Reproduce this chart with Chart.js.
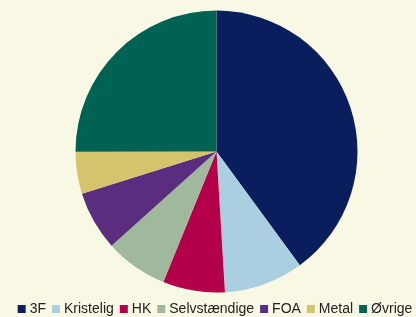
<!DOCTYPE html>
<html>
<head>
<meta charset="utf-8">
<script src="https://cdn.jsdelivr.net/npm/chart.js@4"></script>
<style>
  html, body { margin: 0; padding: 0; background: #f9f8e5; overflow: hidden; }
  /* a bit wider than the window so the pie sits slightly right of centre */
  #wrap { width: 433px; height: 317px; }
</style>
</head>
<body>
<div id="wrap"><canvas id="pie"></canvas></div>
<script>
// Share per group (%), clockwise from 12 o'clock
const labels = ['3F', 'Kristelig', 'HK', 'Selvstændige', 'FOA', 'Metal', 'Øvrige'];
const shares = [39.9, 9.1, 7.1, 7.2, 6.8, 4.8, 25.0];
const colors = ['#0a1e5e', '#a9cfe0', '#b4004b', '#a0b99c', '#5b2d7e', '#d6c46c', '#006253'];

Chart.defaults.font.family = '"Liberation Sans", Arial, sans-serif';

new Chart(document.getElementById('pie').getContext('2d'), {
    type: 'pie',
    data: {
        labels: labels,
        datasets: [{
            data: shares,
            backgroundColor: colors,
            borderWidth: 0,
            radius: 141
        }]
    },
    options: {
        responsive: true,
        maintainAspectRatio: false,
        animation: false,
        layout: { padding: { top: 10 } },
        plugins: {
            tooltip: { enabled: false },
            legend: {
                position: 'bottom',
                maxHeight: 24,
                labels: {
                    // narrow box slot + square point style keeps the square close to its text
                    usePointStyle: true,
                    pointStyle: 'rect',
                    boxWidth: 2,
                    boxHeight: 8,
                    padding: 9,
                    color: '#222',
                    font: { size: 14 }
                }
            }
        }
    }
});
</script>
</body>
</html>
